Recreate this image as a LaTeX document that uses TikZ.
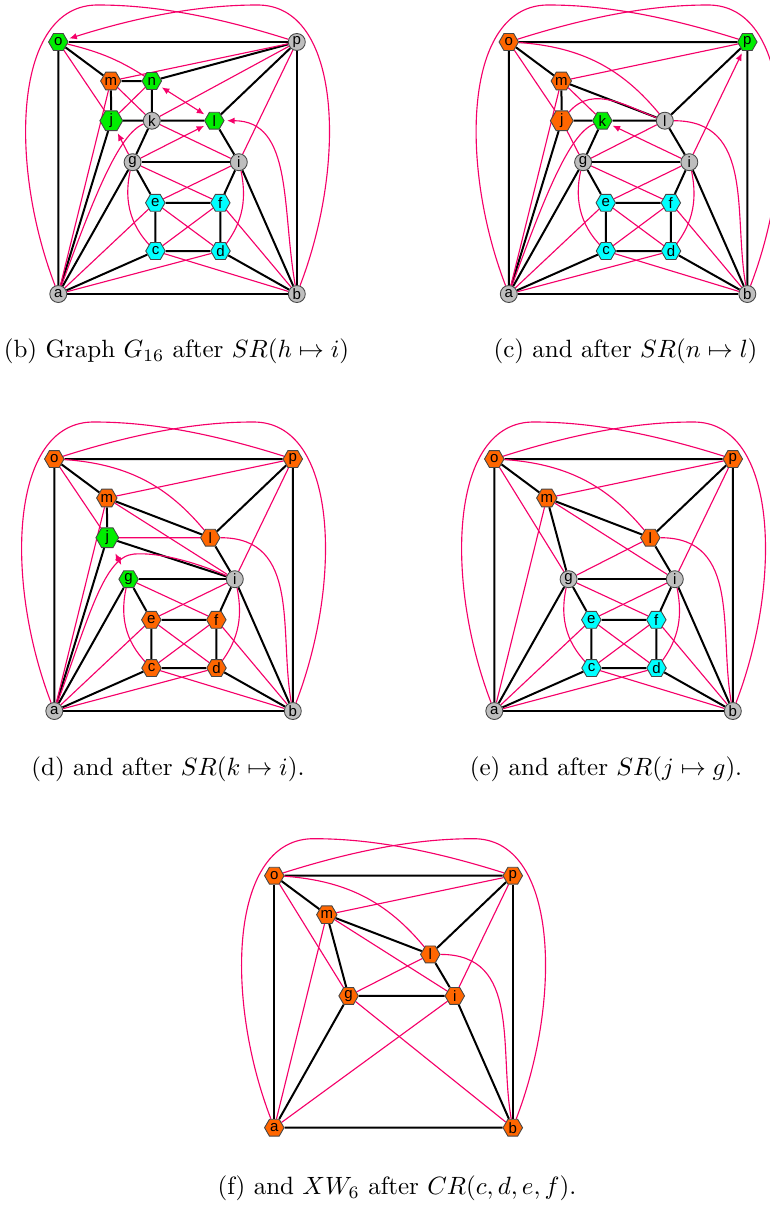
\documentclass[tikz,border=0pt]{standalone}
\usepackage{fontspec}
\newfontfamily\nodesans{Liberation Sans}
\usetikzlibrary{arrows.meta, shapes.geometric, backgrounds}
\definecolor{edgepink}{RGB}{245,0,105}
\definecolor{vorange}{RGB}{255,102,0}
\definecolor{vgreen}{RGB}{0,238,0}
\definecolor{vcyan}{RGB}{0,255,255}
\definecolor{vgray}{RGB}{190,190,190}
\definecolor{vborder}{RGB}{70,70,70}
\tikzset{
  vtx/.style={draw=vborder, line width=0.35pt, inner sep=0pt, font=\nodesans\fontsize{6}{6}\selectfont},
  hexv/.style={vtx, regular polygon, regular polygon sides=6, minimum size=7.8pt},
  nodegray/.style={vtx, circle, fill=vgray, minimum size=6.8pt},
  nodeorange/.style={hexv, fill=vorange},
  nodegreen/.style={hexv, fill=vgreen},
  nodecyan/.style={hexv, fill=vcyan},
  blk/.style={line width=0.8pt},
  pnk/.style={edgepink, line width=0.45pt},
  parr/.style={pnk, -{Latex[length=3pt,width=2.6pt]}, shorten >=1pt},
  pdbl/.style={pnk, {Latex[length=3pt,width=2.6pt]}-{Latex[length=3pt,width=2.6pt]}, shorten >=1.2pt, shorten <=1.2pt},
  captext/.style={font=\fontsize{10}{12}\selectfont}
}
\begin{document}
\begin{tikzpicture}[x=0.4pt, y=0.4pt]
  \useasboundingbox (0,0) rectangle (769,-1207);

  % (b) graph G16
  \begin{scope}[shift={(58.3,-294)}, name prefix=b-]
    \foreach \n/\x/\y/\s in {a/0/0/nodegray, b/238.5/0/nodegray, o/0/252/nodegreen, p/238.5/252/nodegray,
      m/52.5/213/nodeorange, n/93.5/213/nodegreen, j/53/173.3/nodegreen, k/93.5/173.3/nodegray,
      l/156/173.3/nodegreen, g/74.3/131.8/nodegray, i/180.5/131.8/nodegray,
      e/97/91.2/nodecyan, f/162/91.2/nodecyan, c/97.2/43/nodecyan, d/162.2/43/nodecyan}
      \node[\s] (\n) at (\x,\y) {\n};
    \begin{scope}[on background layer]
      \foreach \u/\v in {o/p, o/a, p/b, a/b, o/m, m/n, n/p, m/j, n/k, j/k, k/l, l/p, j/a, k/g, g/i, l/i,
        g/a, g/e, i/f, i/b, e/f, e/c, f/d, c/d, c/a, d/b}
        \draw[blk] (\u) -- (\v);
      \foreach \u/\v in {o/j, m/p, m/a, m/k, j/n, k/p, k/i, p/i, g/f, i/e, e/d, f/c, e/a, f/b, c/b, d/a}
        \draw[pnk] (\u) -- (\v);
      \draw[pnk] (o) to[bend left=10] (n);
      \draw[pnk] (a) .. controls (-50,130) and (-45,290) .. (40,289) .. controls (90,289) and (150,280) .. (p);
      \draw[parr] (b) .. controls (288.5,130) and (283.5,290) .. (198.5,289) .. controls (148.5,289) and (88.5,280) .. (o);
      \draw[pnk] (a) .. controls (35,95) and (60,160) .. (k);
      \draw[pnk] (g) to[bend right=30] (c);
      \draw[pnk] (i) to[bend left=26] (d);
      \draw[pdbl] (n) -- (l);
      \draw[parr] (g) -- (j);
      \draw[parr] (g) -- (l);
      \draw[parr] (b) to[out=100, in=0, looseness=1.1] (l);
    \end{scope}
  \end{scope}

  % (c) after SR(n -> l)
  \begin{scope}[shift={(508.8,-294)}, name prefix=c-]
    \foreach \n/\x/\y/\s in {a/0/0/nodegray, b/238.5/0/nodegray, o/0/252/nodeorange, p/238.5/252/nodegreen,
      m/52.5/213/nodeorange, j/53/173.3/nodeorange, k/93.5/173.3/nodegreen,
      l/156/173.3/nodegray, g/74.3/131.8/nodegray, i/180.5/131.8/nodegray,
      e/97/91.2/nodecyan, f/162/91.2/nodecyan, c/97.2/43/nodecyan, d/162.2/43/nodecyan}
      \node[\s] (\n) at (\x,\y) {\n};
    \begin{scope}[on background layer]
      \foreach \u/\v in {o/p, o/a, p/b, a/b, o/m, m/j, m/l, j/k, k/l, l/p, l/i, k/g, j/a, g/i,
        g/a, g/e, i/f, i/b, e/f, e/c, f/d, c/d, c/a, d/b}
        \draw[blk] (\u) -- (\v);
      \foreach \u/\v in {o/j, m/p, m/a, m/k, g/l, j/g, g/f, i/e, e/d, f/c, e/a, f/b, c/b, d/a}
        \draw[pnk] (\u) -- (\v);
      \draw[pnk] (a) .. controls (-50,130) and (-45,290) .. (40,289) .. controls (90,289) and (150,280) .. (p);
      \draw[pnk] (b) .. controls (288.5,130) and (283.5,290) .. (198.5,289) .. controls (148.5,289) and (88.5,280) .. (o);
      \draw[pnk] (o) to[bend left=24] (l);
      \draw[pnk] (j) to[out=50, in=160] (l);
      \draw[pnk] (l) to[out=0, in=100, looseness=1.1] (b);
      \draw[pnk] (a) .. controls (35,95) and (60,160) .. (k);
      \draw[pnk] (g) to[bend right=30] (c);
      \draw[pnk] (i) to[bend left=26] (d);
      \draw[parr] (i) -- (k);
      \draw[parr] (i) -- (p);
    \end{scope}
  \end{scope}

  % (d) after SR(k -> i)
  \begin{scope}[shift={(54.3,-711)}, name prefix=d-]
    \foreach \n/\x/\y/\s in {a/0/0/nodegray, b/238.5/0/nodegray, o/0/252/nodeorange, p/238.5/252/nodeorange,
      m/52.5/213/nodeorange, j/53/173.3/nodegreen,
      l/156/173.3/nodeorange, g/74.3/131.8/nodegreen, i/180.5/131.8/nodegray,
      e/97/91.2/nodeorange, f/162/91.2/nodeorange, c/97.2/43/nodeorange, d/162.2/43/nodeorange}
      \node[\s] (\n) at (\x,\y) {\n};
    \begin{scope}[on background layer]
      \foreach \u/\v in {o/p, o/a, p/b, a/b, o/m, m/l, m/j, j/i, l/p, l/i, j/a, g/i,
        g/a, g/e, i/f, i/b, e/f, e/c, f/d, c/d, c/a, d/b}
        \draw[blk] (\u) -- (\v);
      \foreach \u/\v in {o/j, m/p, m/a, m/i, j/l, p/i, g/f, i/e, e/d, f/c, e/a, f/b, c/b, d/a}
        \draw[pnk] (\u) -- (\v);
      \draw[pnk] (a) .. controls (-50,130) and (-45,290) .. (40,289) .. controls (90,289) and (150,280) .. (p);
      \draw[pnk] (b) .. controls (288.5,130) and (283.5,290) .. (198.5,289) .. controls (148.5,289) and (88.5,280) .. (o);
      \draw[pnk] (o) to[bend left=24] (l);
      \draw[pnk] (l) to[out=0, in=100, looseness=1.1] (b);
      \draw[pnk] (a) .. controls (35,95) and (50,155) .. (80,157) .. controls (110,159) and (150,145) .. (i);
      \draw[pnk] (g) to[bend right=30] (c);
      \draw[pnk] (i) to[bend left=26] (d);
      \draw[pdbl, shorten <=2.4pt, shorten >=2.4pt] (j) -- (g);
    \end{scope}
  \end{scope}

  % (e) after SR(j -> g)
  \begin{scope}[shift={(494.3,-711)}, name prefix=e-]
    \foreach \n/\x/\y/\s in {a/0/0/nodegray, b/238.5/0/nodegray, o/0/252/nodeorange, p/238.5/252/nodeorange,
      m/52.5/213/nodeorange, l/156/173.3/nodeorange, g/74.3/131.8/nodegray, i/180.5/131.8/nodegray,
      e/97/91.2/nodecyan, f/162/91.2/nodecyan, c/97.2/43/nodecyan, d/162.2/43/nodecyan}
      \node[\s] (\n) at (\x,\y) {\n};
    \begin{scope}[on background layer]
      \foreach \u/\v in {o/p, o/a, p/b, a/b, o/m, m/l, m/g, l/p, l/i, g/i,
        g/a, g/e, i/f, i/b, e/f, e/c, f/d, c/d, c/a, d/b}
        \draw[blk] (\u) -- (\v);
      \foreach \u/\v in {o/g, m/p, m/a, m/i, l/g, p/i, g/f, i/e, e/d, f/c, e/a, f/b, c/b, d/a}
        \draw[pnk] (\u) -- (\v);
      \draw[pnk] (a) .. controls (-50,130) and (-45,290) .. (40,289) .. controls (90,289) and (150,280) .. (p);
      \draw[pnk] (b) .. controls (288.5,130) and (283.5,290) .. (198.5,289) .. controls (148.5,289) and (88.5,280) .. (o);
      \draw[pnk] (o) to[bend left=24] (l);
      \draw[pnk] (l) to[out=0, in=100, looseness=1.1] (b);
      \draw[pnk] (g) to[bend right=30] (c);
      \draw[pnk] (i) to[bend left=26] (d);
    \end{scope}
  \end{scope}

  % (f) XW6 after CR(c,d,e,f)
  \begin{scope}[shift={(274.3,-1127.7)}, name prefix=f-]
    \foreach \n/\x/\y in {a/0/0, b/238.5/0, o/0/252, p/238.5/252,
      m/52.5/213, l/156/173.3, g/74.3/131.8, i/180.5/131.8}
      \node[nodeorange] (\n) at (\x,\y) {\n};
    \begin{scope}[on background layer]
      \foreach \u/\v in {o/p, o/a, p/b, a/b, o/m, m/l, m/g, l/p, l/i, g/i, g/a, i/b}
        \draw[blk] (\u) -- (\v);
      \foreach \u/\v in {o/g, m/p, m/a, m/i, l/g, p/i, g/b, i/a}
        \draw[pnk] (\u) -- (\v);
      \draw[pnk] (a) .. controls (-50,130) and (-45,290) .. (40,289) .. controls (90,289) and (150,280) .. (p);
      \draw[pnk] (b) .. controls (288.5,130) and (283.5,290) .. (198.5,289) .. controls (148.5,289) and (88.5,280) .. (o);
      \draw[pnk] (o) to[bend left=24] (l);
      \draw[pnk] (l) to[out=0, in=100, looseness=1.1] (b);
    \end{scope}
  \end{scope}

  % captions
  \node[captext] (capb) at (176.5,-351.5) {(b) Graph $G_{16}$ after $SR(h\mapsto i)$};
  \node[captext] (capc) at (625.5,-351.5) {(c) and after $SR(n\mapsto l)$};
  \node[captext] (capd) at (168,-769) {(d) and after $SR(k\mapsto i)$.};
  \node[captext] (cape) at (606,-769) {(e) and after $SR(j\mapsto g)$.};
  \node[captext] (capf) at (397,-1188) {(f) and $XW_6$ after $CR(c,d,e,f)$.};
\end{tikzpicture}
\end{document}
